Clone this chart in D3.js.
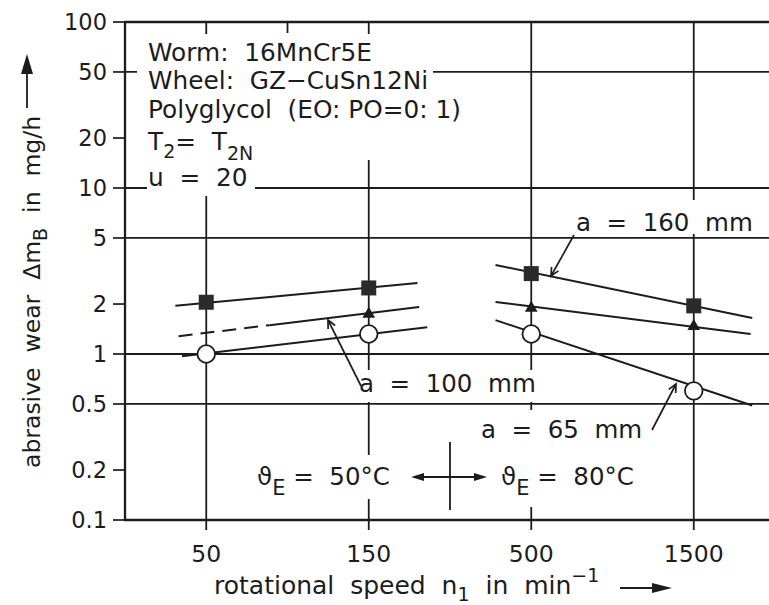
<!DOCTYPE html>
<html><head><meta charset="utf-8">
<script src="https://cdn.jsdelivr.net/npm/d3@7"></script>
<style>
body{margin:0;background:#fff}
svg text{font-family:"DejaVu Sans",sans-serif;fill:#1c1c1c;white-space:pre}
</style></head><body>
<svg id="chart" width="769" height="605"></svg>
<script>
// rotational speed categories (min^-1)
const speeds = ["50", "150", "500", "1500"];
// wear axis ticks (mg/h)
const yTicks = [0.1, 0.2, 0.5, 1, 2, 5, 10, 20, 50, 100];
const yTickLabels = ["0.1", "0.2", "0.5", "1", "2", "5", "10", "20", "50", "100"];
const yGrid = [0.5, 1, 5, 10, 50];
// measured abrasive wear per centre distance a
const wear160 = [2.05, 2.5, 3.05, 1.95];
const wear100 = [null, 1.74, 1.89, 1.47];
const wear65 = [1.0, 1.32, 1.32, 0.6];
// trend lines as [speed index, wear] end points
const trend160at50C = [[-0.19, 1.95], [1.30, 2.68]];
const trend100at50C = [[-0.17, 1.28], [1.31, 1.92]];
const trend65at50C = [[-0.15, 0.97], [1.36, 1.45]];
const trend160at80C = [[1.78, 3.44], [3.36, 1.65]];
const trend100at80C = [[1.78, 2.06], [3.35, 1.32]];
const trend65at80C = [[1.78, 1.60], [3.36, 0.49]];
// the a = 100 mm line is extrapolated (dashed) below this speed index
const extrapolatedBelow = 0.39;

const ink = "#1c1c1c";
const svg = d3.select("#chart");
svg.append("rect").attr("width", 769).attr("height", 605).attr("fill", "#fff");

const pLeft = 125, pRight = 775, pTop = 22, pBottom = 520;
const x = d3.scaleLinear().domain([-0.5, 3.5]).range([pLeft, pRight]);
const y = d3.scaleLog().domain([0.1, 100]).range([pBottom, pTop]);

// grid
const grid = svg.append("g").attr("stroke", ink).attr("stroke-width", 1.8);
grid.selectAll("line.h").data(yGrid).join("line").attr("class", "h")
  .attr("x1", pLeft).attr("x2", pRight)
  .attr("y1", d => y(d)).attr("y2", d => y(d));
grid.selectAll("line.v").data(speeds).join("line").attr("class", "v")
  .attr("x1", (d, i) => x(i)).attr("x2", (d, i) => x(i))
  .attr("y1", pTop).attr("y2", pBottom + 10);
grid.append("line").attr("x1", x(0.5)).attr("x2", x(0.5)).attr("y1", pTop).attr("y2", pTop + 11);

// white boxes behind the text
const knock = [
  [137, 34, 296, 126],
  [147, 158, 108, 38],
  [568, 200, 195, 34],
  [352, 370, 200, 32],
  [478, 410, 172, 97],
  [250, 455, 150, 44]
];
svg.append("g").selectAll("rect").data(knock).join("rect")
  .attr("x", d => d[0]).attr("y", d => d[1]).attr("width", d => d[2]).attr("height", d => d[3])
  .attr("fill", "#fff");

// frame and axis ticks
const frame = svg.append("g").attr("stroke", ink).attr("stroke-width", 2.3).attr("fill", "none");
frame.append("path").attr("d", `M${pRight},${pTop}H${pLeft}V${pBottom}H${pRight}`);
frame.selectAll("line").data(yTicks).join("line")
  .attr("stroke-width", 1.7)
  .attr("x1", pLeft - 12).attr("x2", pLeft)
  .attr("y1", d => y(d)).attr("y2", d => y(d));

svg.append("g").selectAll("text").data(yTicks).join("text")
  .attr("x", 107).attr("y", d => y(d) + 8)
  .attr("text-anchor", "end").attr("font-size", 22.5)
  .text((d, i) => yTickLabels[i]);

svg.append("g").selectAll("text").data(speeds).join("text")
  .attr("x", (d, i) => x(i)).attr("y", 562)
  .attr("text-anchor", "middle").attr("font-size", 23.5)
  .text(d => d);

// trend lines
const line = d3.line().x(d => x(d[0])).y(d => y(d[1]));
const lines = svg.append("g").attr("stroke", ink).attr("stroke-width", 2).attr("fill", "none");
[trend160at50C, trend65at50C, trend160at80C, trend100at80C, trend65at80C].forEach(t =>
  lines.append("path").attr("d", line(t)));
// a = 100 mm at 50 C: dashed where extrapolated, solid elsewhere
{
  const [p0, p1] = trend100at50C;
  const f = (extrapolatedBelow - p0[0]) / (p1[0] - p0[0]);
  const mid = [extrapolatedBelow, Math.pow(10, Math.log10(p0[1]) + f * (Math.log10(p1[1]) - Math.log10(p0[1])))];
  lines.append("path").attr("d", line([p0, mid])).attr("stroke-dasharray", "14 8");
  lines.append("path").attr("d", line([mid, p1]));
}

// markers
const marks = svg.append("g");
marks.selectAll("rect").data(wear160).join("rect")
  .attr("x", (d, i) => x(i) - 7.5).attr("y", d => y(d) - 7.5)
  .attr("width", 15).attr("height", 15).attr("fill", "#2b2b2b");
const tri = d3.symbol().type(d3.symbolTriangle).size(70);
marks.selectAll("path").data(wear100.map((v, i) => [i, v]).filter(d => d[1] != null)).join("path")
  .attr("d", tri).attr("transform", d => `translate(${x(d[0])},${y(d[1])})`)
  .attr("fill", ink);
marks.selectAll("circle").data(wear65).join("circle")
  .attr("cx", (d, i) => x(i)).attr("cy", d => y(d)).attr("r", 8.8)
  .attr("fill", "#fff").attr("stroke", ink).attr("stroke-width", 1.8);

// annotations
const ann = svg.append("g").attr("font-size", 24.5);
function leader(x1, y1, x2, y2) {
  const g = svg.append("g").attr("stroke", ink).attr("stroke-width", 1.7).attr("fill", "none");
  g.append("line").attr("x1", x1).attr("y1", y1).attr("x2", x2).attr("y2", y2);
  const a = Math.atan2(y1 - y2, x1 - x2), s = 9, w = 0.45;
  g.append("path").attr("d",
    `M${x2 + s * Math.cos(a - w)},${y2 + s * Math.sin(a - w)}L${x2},${y2}L${x2 + s * Math.cos(a + w)},${y2 + s * Math.sin(a + w)}`);
}
ann.append("text").attr("x", 576).attr("y", 231).text("a  =  160  mm");
leader(574, 235, 551, 276);
ann.append("text").attr("x", 359).attr("y", 392).text("a  =  100  mm");
leader(361, 386, 328, 320);
ann.append("text").attr("x", 481).attr("y", 438).text("a  =  65  mm");
leader(652, 430, 676, 384);

// operating temperature regions
const t50 = ann.append("text").attr("x", 257).attr("y", 485);
t50.append("tspan").text("ϑ");
t50.append("tspan").attr("dy", 10).attr("font-size", 21).text("E");
t50.append("tspan").attr("dy", -10).text(" =  50°C");
const t80 = ann.append("text").attr("x", 501).attr("y", 485);
t80.append("tspan").text("ϑ");
t80.append("tspan").attr("dy", 10).attr("font-size", 21).text("E");
t80.append("tspan").attr("dy", -10).text(" =  80°C");

const sep = svg.append("g").attr("stroke", ink).attr("stroke-width", 1.8);
sep.append("line").attr("x1", x(1.5)).attr("x2", x(1.5)).attr("y1", 442).attr("y2", 510);
sep.append("line").attr("x1", 418).attr("x2", 480).attr("y1", 477).attr("y2", 477);
svg.append("path").attr("fill", ink)
  .attr("d", "M411,477l13,-4v8z M487,477l-13,-4v8z");

// test conditions
const info = svg.append("g").attr("font-size", 24.8);
info.append("text").attr("x", 148).attr("y", 61).text("Worm:  16MnCr5E");
info.append("text").attr("x", 148).attr("y", 89).text("Wheel:  GZ−CuSn12Ni");
info.append("text").attr("x", 148).attr("y", 118).text("Polyglycol  (EO: PO=0: 1)");
const tl = info.append("text").attr("x", 148).attr("y", 150);
tl.append("tspan").text("T");
tl.append("tspan").attr("dy", 8).attr("font-size", 19).text("2");
tl.append("tspan").attr("dy", -8).text("=  T");
tl.append("tspan").attr("dy", 10).attr("font-size", 19).text("2N");
info.append("text").attr("x", 148).attr("y", 186).text("u  =  20");

// axis titles
const xt = svg.append("text").attr("x", 214).attr("y", 594).attr("font-size", 25);
xt.append("tspan").text("rotational  speed  n");
xt.append("tspan").attr("dy", 7).attr("font-size", 19).text("1");
xt.append("tspan").attr("dy", -7).text("  in  min");
xt.append("tspan").attr("dy", -12).attr("font-size", 19).text("−1");
svg.append("line").attr("x1", 620).attr("x2", 655).attr("y1", 588).attr("y2", 588)
  .attr("stroke", ink).attr("stroke-width", 1.8);
svg.append("path").attr("fill", ink).attr("d", "M672,588l-20,-5v10z");

const yt = svg.append("text").attr("transform", "translate(40,468) rotate(-90)").attr("font-size", 23.5);
yt.append("tspan").text("abrasive  wear  Δm");
yt.append("tspan").attr("dy", 7).attr("font-size", 19).text("B");
yt.append("tspan").attr("dy", -7).text("  in  mg/h");
svg.append("line").attr("x1", 27).attr("x2", 27).attr("y1", 108).attr("y2", 70)
  .attr("stroke", ink).attr("stroke-width", 1.8);
svg.append("path").attr("fill", ink).attr("d", "M27,54l-6,20h12z");
</script>
</body></html>
